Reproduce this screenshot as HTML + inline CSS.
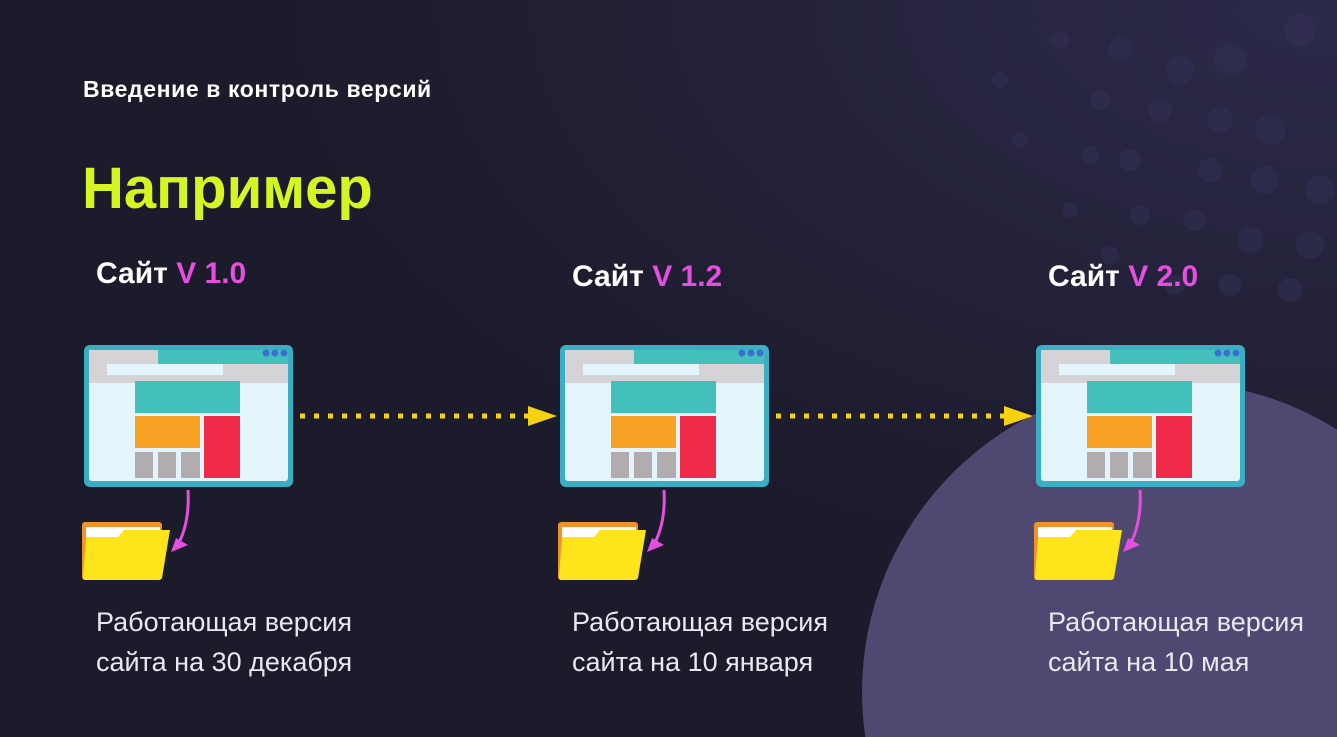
<!DOCTYPE html><html style="overflow:hidden"><head><meta charset="utf-8"><style>
html,body{margin:0;width:1337px;height:737px;overflow:hidden}
body{background:#1c1b2b;font-family:"Liberation Sans","Noto Sans CJK SC",sans-serif;position:relative}
.t{position:absolute;color:#fff;white-space:nowrap}
</style></head><body>
<svg width="1337" height="737" style="position:absolute;left:0;top:0">
<defs><radialGradient id="g" cx="1" cy="0" r="0.8"><stop offset="0" stop-color="#2c2a4a"/><stop offset="1" stop-color="#1c1b2b"/></radialGradient></defs>
<rect width="1337" height="737" fill="url(#g)"/>
<g fill="#3a3760" opacity="0.35">
<circle cx="1180" cy="70" r="14"/><circle cx="1230" cy="60" r="16"/><circle cx="1300" cy="30" r="16"/><circle cx="1120" cy="50" r="12"/><circle cx="1270" cy="130" r="15"/><circle cx="1220" cy="120" r="13"/><circle cx="1160" cy="110" r="12"/><circle cx="1320" cy="190" r="15"/><circle cx="1265" cy="180" r="14"/><circle cx="1210" cy="170" r="12"/><circle cx="1130" cy="160" r="11"/><circle cx="1100" cy="100" r="10"/><circle cx="1310" cy="245" r="14"/><circle cx="1250" cy="240" r="13"/><circle cx="1195" cy="220" r="11"/><circle cx="1140" cy="215" r="10"/><circle cx="1090" cy="155" r="9"/><circle cx="1290" cy="290" r="12"/><circle cx="1230" cy="285" r="11"/><circle cx="1175" cy="285" r="10"/><circle cx="1060" cy="40" r="9"/><circle cx="1070" cy="210" r="8"/><circle cx="1110" cy="255" r="9"/><circle cx="1020" cy="140" r="8"/><circle cx="1000" cy="80" r="8"/>
</g>
<circle cx="1172" cy="692" r="310" fill="#4f4870"/>
<line x1="300" y1="416" x2="530" y2="416" stroke="#f6d20f" stroke-width="5" stroke-dasharray="5 9"/>
<polygon points="528,406 557,416 528,426" fill="#f6d20f"/>
<line x1="776" y1="416" x2="1006" y2="416" stroke="#f6d20f" stroke-width="5" stroke-dasharray="5 9"/>
<polygon points="1004,406 1033,416 1004,426" fill="#f6d20f"/>
<g id="b">
<rect x="84" y="345" width="209" height="142" rx="6" fill="#3aaec3"/>
<rect x="89" y="350" width="199" height="131" rx="3" fill="#e3f4fb"/>
<rect x="89" y="350" width="199" height="33" fill="#d5d3d6"/>
<rect x="158" y="350" width="130" height="14" fill="#44c0bc"/>
<rect x="107" y="364" width="116" height="11" fill="#e3f4fb"/>
<circle cx="266" cy="353" r="3.5" fill="#3a6fd0"/><circle cx="275" cy="353" r="3.5" fill="#3a6fd0"/><circle cx="284" cy="353" r="3.5" fill="#3a6fd0"/>
<rect x="135" y="381" width="105" height="32" fill="#44c0bc"/>
<rect x="135" y="416" width="65" height="32" fill="#f8a024"/>
<rect x="204" y="416" width="36" height="62" fill="#ee2a48"/>
<rect x="135" y="452" width="18" height="26" fill="#b1adaf"/><rect x="158" y="452" width="18" height="26" fill="#b1adaf"/><rect x="181" y="452" width="19" height="26" fill="#b1adaf"/>
<rect x="82" y="522" width="80" height="58" rx="3" fill="#f0912a"/>
<rect x="86" y="527" width="74" height="20" fill="#fff"/>
<path d="M86 537 L118 537 L124 530 L170 530 L162 578 Q161 580 158 580 L86 580 Q82 580 83 576 Z" fill="#fde41b"/>
<path d="M188 490 Q190 525 176 548" stroke="#e44fe0" stroke-width="3" fill="none"/>
<polygon points="171,552 176,538 188,545" fill="#e44fe0"/>
</g>
<use href="#b" x="476"/><use href="#b" x="952"/>
</svg>
<div class="t" style="left:83px;top:76px;font-size:23px;font-weight:bold;letter-spacing:0.6px">Введение в контроль версий</div>
<div class="t" style="left:82px;top:155px;font-size:58px;font-weight:bold;color:#d7f423">Например</div>
<div class="t" style="left:96px;top:257px;font-size:30px;font-weight:bold">Сайт <span style="color:#e44fe0">V 1.0</span></div>
<div class="t" style="left:572px;top:260px;font-size:30px;font-weight:bold">Сайт <span style="color:#e44fe0">V 1.2</span></div>
<div class="t" style="left:1048px;top:260px;font-size:30px;font-weight:bold">Сайт <span style="color:#e44fe0">V 2.0</span></div>
<div class="t" style="left:96px;top:602px;font-size:27px;line-height:40px;color:#e8e8ee">Работающая версия<br>сайта на 30 декабря</div>
<div class="t" style="left:572px;top:602px;font-size:27px;line-height:40px;color:#e8e8ee">Работающая версия<br>сайта на 10 января</div>
<div class="t" style="left:1048px;top:602px;font-size:27px;line-height:40px;color:#e8e8ee">Работающая версия<br>сайта на 10 мая</div>
</body></html>
